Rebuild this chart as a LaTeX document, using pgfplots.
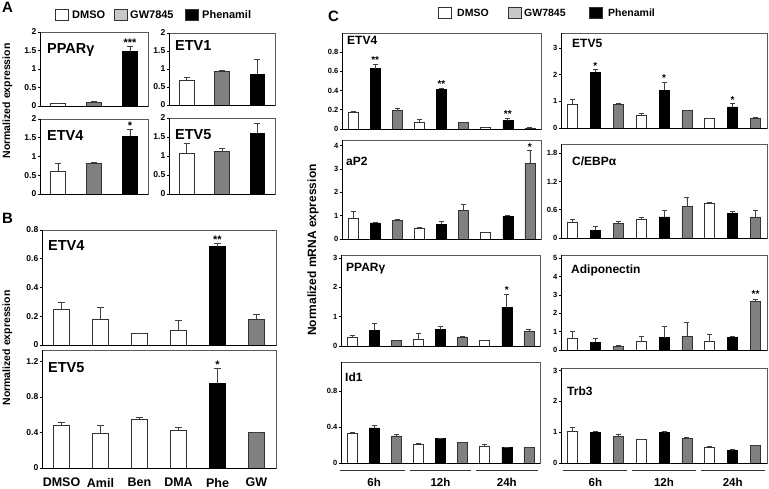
\documentclass[border=0pt]{standalone}
\usepackage{pgfplots}
\pgfplotsset{compat=1.18}
\usepackage{fontspec}
\setmainfont{Liberation Sans}
\definecolor{gbar}{HTML}{808080}
\definecolor{glegend}{HTML}{C8C8C8}
\definecolor{frame}{HTML}{5A5A5A}
\pgfplotsset{
 panel/.style={
  scale only axis, anchor=south west, ymin=0, clip=false,
  axis line style={draw=frame, line width=0.7pt},
  ytick pos=left, xtick=\empty, tick align=outside,
  major tick length=2.5pt, ytick style={black, line width=0.6pt},
  yticklabel style={font=\bfseries\fontsize{8.5}{8.5}\selectfont, inner sep=1pt},
  /pgf/number format/assume math mode=true,
  ybar, bar shift=0pt,
  error bars/y dir=plus, error bars/y explicit,
  error bars/error bar style={black!75, line width=0.7pt},
  error bars/error mark options={rotate=90, mark size=3pt, black!75, line width=0.7pt},
  after end axis/.code={\draw[black, line width=0.7pt] (rel axis cs:0,1) -- (rel axis cs:0,0) -- (rel axis cs:1,0);},
 },
 pA/.style={panel, xmin=0.5, xmax=3.5, ymax=2, ytick={0,0.5,1,1.5,2}, bar width=14.5pt},
 pB/.style={panel, xmin=0.5, xmax=6.5, bar width=16.5pt, yticklabel style={font=\bfseries\fontsize{8.5}{8.5}\selectfont},
   error bars/error mark options={rotate=90, mark size=3.5pt, black!75, line width=0.7pt}},
 pC/.style={panel, xmin=0.5, xmax=9.5, bar width=10pt, yticklabel style={font=\bfseries\fontsize{7.5}{7.5}\selectfont},
   error bars/error mark options={rotate=90, mark size=2.5pt, black!75, line width=0.7pt}},
 wb/.style={fill=white, draw=black!80, line width=0.6pt},
 bb/.style={fill=black, draw=black, line width=0.6pt},
 gb/.style={fill=gbar, draw=black!80, line width=0.6pt},
}
\tikzset{
 tA/.style={anchor=north west, inner sep=0, font=\bfseries\fontsize{14.5}{14.5}\selectfont},
 tC/.style={anchor=north west, inner sep=0, font=\bfseries\fontsize{12}{12}\selectfont},
 st/.style={anchor=south, inner sep=0.5pt, font=\bfseries\fontsize{11}{11}\selectfont},
 stc/.style={anchor=south, inner sep=0.5pt, font=\bfseries\fontsize{10}{10}\selectfont},
 lg/.style={anchor=west, inner sep=0, font=\bfseries\fontsize{11}{11}\selectfont},
 lb/.style={anchor=west, draw=black!80, line width=0.6pt, minimum width=13pt, minimum height=11pt, inner sep=0},
}
\begin{document}
\begin{tikzpicture}
\useasboundingbox (0,0) rectangle (769pt,-489pt);
% panel letters
\node[anchor=north west, inner sep=0, font=\bfseries\fontsize{15}{15}\selectfont] at (2pt,-2pt) {A};
\node[anchor=north west, inner sep=0, font=\bfseries\fontsize{15}{15}\selectfont] at (2pt,-213pt) {B};
\node[anchor=north west, inner sep=0, font=\bfseries\fontsize{15}{15}\selectfont] at (328pt,-11pt) {C};
% legends
\node[lb, fill=white] at (55pt,-15pt) {};
\node[lg] at (72pt,-15pt) {DMSO};
\node[lb, fill=glegend] at (114pt,-15pt) {};
\node[lg] at (130pt,-15pt) {GW7845};
\node[lb, fill=black] at (185pt,-15pt) {};
\node[lg] at (202pt,-15pt) {Phenamil};
\node[lb, fill=white] at (438pt,-13pt) {};
\node[lg, font=\bfseries\fontsize{10.5}{10.5}\selectfont] at (457pt,-13pt) {DMSO};
\node[lb, fill=glegend] at (508pt,-13pt) {};
\node[lg, font=\bfseries\fontsize{10.5}{10.5}\selectfont] at (524pt,-13pt) {GW7845};
\node[lb, fill=black] at (589pt,-13pt) {};
\node[lg, font=\bfseries\fontsize{10.5}{10.5}\selectfont] at (608pt,-13pt) {Phenamil};
% y labels
\node[rotate=90, font=\bfseries\fontsize{10.5}{10.5}\selectfont] at (7.5pt,-101pt) {Normalized expression};
\node[rotate=90, font=\bfseries\fontsize{10.5}{10.5}\selectfont] at (7.5pt,-348pt) {Normalized expression};
\node[rotate=90, font=\bfseries\fontsize{12}{12}\selectfont] at (313pt,-250pt) {Normalized mRNA expression};

% ===== Panel A =====
\begin{axis}[pA, at={(40pt,-106pt)}, width=108pt, height=74pt]
\addplot[wb] coordinates {(1,0.08) +- (0,0.005)};
\addplot[gb] coordinates {(2,0.10) +- (0,0.02)};
\addplot[bb] coordinates {(3,1.47) +- (0,0.13)};
\node[tA] at ([xshift=7pt,yshift=-11pt]rel axis cs:0,1) {PPARγ};
\node[st] at (axis cs:3,1.58) {***};
\end{axis}
\begin{axis}[pA, at={(169pt,-105pt)}, width=106pt, height=72pt]
\addplot[wb] coordinates {(1,0.69) +- (0,0.09)};
\addplot[gb] coordinates {(2,0.94) +- (0,0.02)};
\addplot[bb] coordinates {(3,0.86) +- (0,0.40)};
\node[tA] at ([xshift=6pt,yshift=-7pt]rel axis cs:0,1) {ETV1};
\end{axis}
\begin{axis}[pA, at={(40pt,-194pt)}, width=108pt, height=75pt]
\addplot[wb] coordinates {(1,0.61) +- (0,0.22)};
\addplot[gb] coordinates {(2,0.82) +- (0,0.02)};
\addplot[bb] coordinates {(3,1.55) +- (0,0.17)};
\node[tA] at ([xshift=7pt,yshift=-11pt]rel axis cs:0,1) {ETV4};
\node[st] at (axis cs:3,1.70) {*};
\end{axis}
\begin{axis}[pA, at={(169pt,-194pt)}, width=106pt, height=76pt]
\addplot[wb] coordinates {(1,1.08) +- (0,0.25)};
\addplot[gb] coordinates {(2,1.13) +- (0,0.06)};
\addplot[bb] coordinates {(3,1.59) +- (0,0.27)};
\node[tA] at ([xshift=6pt,yshift=-11pt]rel axis cs:0,1) {ETV5};
\end{axis}

% ===== Panel B =====
\begin{axis}[pB, at={(42pt,-345pt)}, width=234pt, height=115pt, ymax=0.8, ytick={0,0.2,0.4,0.6,0.8}]
\addplot[wb] coordinates {(1,0.25) +- (0,0.045) (2,0.18) +- (0,0.08) (3,0.08) +- (0,0.002) (4,0.105) +- (0,0.065)};
\addplot[bb] coordinates {(5,0.685) +- (0,0.02)};
\addplot[gb] coordinates {(6,0.18) +- (0,0.03)};
\node[tA] at ([xshift=6pt,yshift=-10pt]rel axis cs:0,1) {ETV4};
\node[st] at (axis cs:5,0.70) {**};
\end{axis}
\begin{axis}[pB, at={(42pt,-468pt)}, width=234pt, height=118pt, ymax=1.33, ytick={0,0.4,0.8,1.2},
  xtick={1,2,3,4,5,6}, xticklabels={DMSO,Amil,Ben,DMA,Phe,GW}, xtick style={draw=none},
  xticklabel style={font=\bfseries\fontsize{12.5}{12.5}\selectfont, yshift=-4pt}]
\addplot[wb] coordinates {(1,0.48) +- (0,0.04) (2,0.39) +- (0,0.09) (3,0.55) +- (0,0.02) (4,0.43) +- (0,0.03)};
\addplot[bb] coordinates {(5,0.95) +- (0,0.17)};
\addplot[gb] coordinates {(6,0.40) +- (0,0.005)};
\node[tA] at ([xshift=6pt,yshift=-12pt]rel axis cs:0,1) {ETV5};
\node[st] at (axis cs:5,1.11) {*};
\end{axis}

% ===== Panel C, left column =====
\begin{axis}[pC, at={(342pt,-129pt)}, width=199pt, height=96pt, ymax=1.0, ytick={0,0.2,0.4,0.6,0.8}]
\addplot[wb] coordinates {(1,0.17) +- (0,0.015) (4,0.072) +- (0,0.028) (7,0.014) +- (0,0.004)};
\addplot[bb] coordinates {(2,0.63) +- (0,0.04) (5,0.415) +- (0,0.008) (8,0.086) +- (0,0.03)};
\addplot[gb] coordinates {(3,0.197) +- (0,0.015) (6,0.07) +- (0,0.003) (9,0.01) +- (0,0.003)};
\node[tC] at ([xshift=5pt,yshift=-3pt]rel axis cs:0,1) {ETV4};
\node[stc] at (axis cs:2,0.67) {**};
\node[stc] at (axis cs:5,0.42) {**};
\node[stc] at (axis cs:8,0.115) {**};
\end{axis}
\begin{axis}[pC, at={(342pt,-239pt)}, width=199pt, height=99pt, ymax=4.24, ytick={0,1,2,3,4}]
\addplot[wb] coordinates {(1,0.87) +- (0,0.30) (4,0.46) +- (0,0.03) (7,0.27) +- (0,0.02)};
\addplot[bb] coordinates {(2,0.69) +- (0,0.04) (5,0.64) +- (0,0.10) (8,0.97) +- (0,0.06)};
\addplot[gb] coordinates {(3,0.80) +- (0,0.06) (6,1.21) +- (0,0.29) (9,3.24) +- (0,0.55)};
\node[tC] at ([xshift=4pt,yshift=-17pt]rel axis cs:0,1) {aP2};
\node[stc] at (axis cs:9,3.78) {*};
\end{axis}
\begin{axis}[pC, at={(341pt,-346pt)}, width=199pt, height=91pt, ymax=3.1, ytick={0,1,2,3}]
\addplot[wb] coordinates {(1,0.28) +- (0,0.07) (4,0.23) +- (0,0.20) (7,0.20) +- (0,0.005)};
\addplot[bb] coordinates {(2,0.53) +- (0,0.24) (5,0.56) +- (0,0.10) (8,1.31) +- (0,0.44)};
\addplot[gb] coordinates {(3,0.18) +- (0,0.01) (6,0.31) +- (0,0.005) (9,0.49) +- (0,0.09)};
\node[tC] at ([xshift=5pt,yshift=-8pt]rel axis cs:0,1) {PPARγ};
\node[stc] at (axis cs:8,1.75) {*};
\end{axis}
\begin{axis}[pC, at={(341pt,-463pt)}, width=199pt, height=101pt, ymax=1.12, ytick={0,0.4,0.8}]
\addplot[wb] coordinates {(1,0.33) +- (0,0.01) (4,0.21) +- (0,0.01) (7,0.18) +- (0,0.03)};
\addplot[bb] coordinates {(2,0.39) +- (0,0.03) (5,0.275) +- (0,0.003) (8,0.17) +- (0,0.003)};
\addplot[gb] coordinates {(3,0.30) +- (0,0.02) (6,0.225) +- (0,0.004) (9,0.175) +- (0,0.003)};
\node[tC] at ([xshift=4pt,yshift=-11pt]rel axis cs:0,1) {Id1};
\draw[black!80, line width=0.6pt] ([yshift=-7pt]axis cs:0.45,0) -- ([yshift=-7pt]axis cs:3.4,0);
\draw[black!80, line width=0.6pt] ([yshift=-7pt]axis cs:3.6,0) -- ([yshift=-7pt]axis cs:6.4,0);
\draw[black!80, line width=0.6pt] ([yshift=-7pt]axis cs:6.6,0) -- ([yshift=-7pt]axis cs:9.4,0);
\node[font=\bfseries\fontsize{11.5}{11.5}\selectfont] at ([yshift=-19pt]axis cs:2,0) {6h};
\node[font=\bfseries\fontsize{11.5}{11.5}\selectfont] at ([yshift=-19pt]axis cs:5,0) {12h};
\node[font=\bfseries\fontsize{11.5}{11.5}\selectfont] at ([yshift=-19pt]axis cs:8,0) {24h};
\end{axis}

% ===== Panel C, right column =====
\begin{axis}[pC, at={(561pt,-128pt)}, width=206pt, height=95pt, ymax=3.56, ytick={0,1,2,3}]
\addplot[wb] coordinates {(1,0.90) +- (0,0.19) (4,0.475) +- (0,0.06) (7,0.35) +- (0,0.01)};
\addplot[bb] coordinates {(2,2.09) +- (0,0.10) (5,1.41) +- (0,0.30) (8,0.79) +- (0,0.12)};
\addplot[gb] coordinates {(3,0.875) +- (0,0.035) (6,0.65) +- (0,0.025) (9,0.375) +- (0,0.035)};
\node[tC] at ([xshift=11pt,yshift=-6pt]rel axis cs:0,1) {ETV5};
\node[stc] at (axis cs:2,2.18) {*};
\node[stc] at (axis cs:5,1.70) {*};
\node[stc] at (axis cs:8,0.90) {*};
\end{axis}
\begin{axis}[pC, at={(561pt,-238pt)}, width=206pt, height=94pt, ymax=2.0, ytick={0,0.6,1.2,1.8}]
\addplot[wb] coordinates {(1,0.33) +- (0,0.06) (4,0.40) +- (0,0.04) (7,0.74) +- (0,0.015)};
\addplot[bb] coordinates {(2,0.17) +- (0,0.07) (5,0.45) +- (0,0.14) (8,0.53) +- (0,0.04)};
\addplot[gb] coordinates {(3,0.31) +- (0,0.05) (6,0.67) +- (0,0.19) (9,0.45) +- (0,0.14)};
\node[tC] at ([xshift=11pt,yshift=-13pt]rel axis cs:0,1) {C/EBPα};
\end{axis}
\begin{axis}[pC, at={(561pt,-350pt)}, width=206pt, height=95pt, ymax=5.18, ytick={0,1,2,3,4,5}]
\addplot[wb] coordinates {(1,0.62) +- (0,0.42) (4,0.50) +- (0,0.27) (7,0.46) +- (0,0.37)};
\addplot[bb] coordinates {(2,0.41) +- (0,0.25) (5,0.67) +- (0,0.60) (8,0.70) +- (0,0.04)};
\addplot[gb] coordinates {(3,0.20) +- (0,0.07) (6,0.75) +- (0,0.75) (9,2.65) +- (0,0.12)};
\node[tC] at ([xshift=10pt,yshift=-10pt]rel axis cs:0,1) {Adiponectin};
\node[stc] at (axis cs:9,2.8) {**};
\end{axis}
\begin{axis}[pC, at={(561pt,-463pt)}, width=206pt, height=95pt, ymax=3.08, ytick={0,1,2,3}]
\addplot[wb] coordinates {(1,1.04) +- (0,0.11) (4,0.76) +- (0,0.005) (7,0.52) +- (0,0.005)};
\addplot[bb] coordinates {(2,1.00) +- (0,0.03) (5,0.99) +- (0,0.03) (8,0.41) +- (0,0.02)};
\addplot[gb] coordinates {(3,0.86) +- (0,0.08) (6,0.80) +- (0,0.04) (9,0.58) +- (0,0.005)};
\node[tC] at ([xshift=6pt,yshift=-19pt]rel axis cs:0,1) {Trb3};
\draw[black!80, line width=0.6pt] ([yshift=-7pt]axis cs:0.6,0) -- ([yshift=-7pt]axis cs:3.4,0);
\draw[black!80, line width=0.6pt] ([yshift=-7pt]axis cs:3.6,0) -- ([yshift=-7pt]axis cs:6.4,0);
\draw[black!80, line width=0.6pt] ([yshift=-7pt]axis cs:6.6,0) -- ([yshift=-7pt]axis cs:9.4,0);
\node[font=\bfseries\fontsize{11.5}{11.5}\selectfont] at ([yshift=-19pt]axis cs:2,0) {6h};
\node[font=\bfseries\fontsize{11.5}{11.5}\selectfont] at ([yshift=-19pt]axis cs:5,0) {12h};
\node[font=\bfseries\fontsize{11.5}{11.5}\selectfont] at ([yshift=-19pt]axis cs:8,0) {24h};
\end{axis}
\end{tikzpicture}
\end{document}
